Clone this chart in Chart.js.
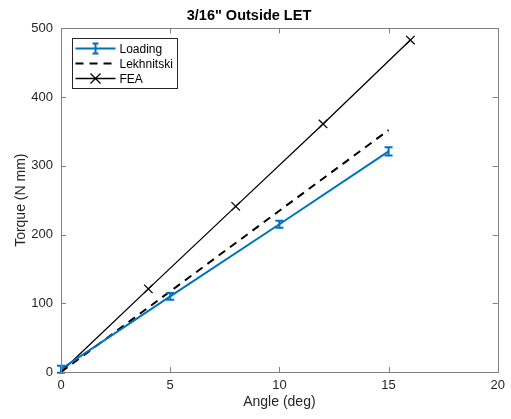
<!DOCTYPE html>
<html lang="en">
<head>
<meta charset="UTF-8">
<title>3/16" Outside LET</title>
<script src="https://cdn.jsdelivr.net/npm/chart.js"></script>
<style>
    body { margin: 0; background: #fff; }
    #wrap { width: 511px; height: 419px; }
</style>
</head>
<body>
<div id="wrap"><canvas id="mycanvas" width="511" height="419"></canvas></div>
<script type="text/javascript">
    // data
    const loadAngle = [0, 5, 10, 15];
    const loadTorque = [4, 110, 215, 321];
    const loadErr = [5, 5, 5, 6];

    const lekAngle = [0, 15];
    const lekTorque = [0, 352];

    const feaAngle = [0, 4, 8, 12, 16];
    const feaTorque = [0, 121, 241, 361, 483];

    const xTicks = [0, 5, 10, 15, 20];
    const yTicks = [0, 100, 200, 300, 400, 500];

    const blue = '#0072BD';
    const axisGrey = '#808080';
    const textGrey = '#262626';

    function pts(xs, ys) {
        return xs.map((x, i) => ({ x: x, y: ys[i] }));
    }

    // error bars for the Loading series
    const errorBars = {
        id: 'errorBars',
        afterDatasetsDraw(chart) {
            const ctx = chart.ctx;
            const xs = chart.scales.x, ys = chart.scales.y;
            ctx.save();
            ctx.strokeStyle = blue;
            ctx.lineWidth = 2;
            loadAngle.forEach((a, i) => {
                const px = xs.getPixelForValue(a);
                const top = ys.getPixelForValue(loadTorque[i] + loadErr[i]);
                const bot = ys.getPixelForValue(loadTorque[i] - loadErr[i]);
                ctx.beginPath();
                ctx.moveTo(px, top); ctx.lineTo(px, bot);
                ctx.moveTo(px - 4, top); ctx.lineTo(px + 4, top);
                ctx.moveTo(px - 4, bot); ctx.lineTo(px + 4, bot);
                ctx.stroke();
            });
            ctx.restore();
        }
    };

    // matlab style box with inward ticks, plus the legend
    const boxFrame = {
        id: 'boxFrame',
        afterDraw(chart) {
            const ctx = chart.ctx;
            const a = chart.chartArea;
            const xs = chart.scales.x, ys = chart.scales.y;
            ctx.save();
            ctx.strokeStyle = axisGrey;
            ctx.lineWidth = 1;
            ctx.strokeRect(Math.round(a.left) + 0.5, Math.round(a.top) + 0.5,
                Math.round(a.right - a.left), Math.round(a.bottom - a.top));
            ctx.beginPath();
            xTicks.forEach(t => {
                const px = Math.round(xs.getPixelForValue(t)) + 0.5;
                ctx.moveTo(px, a.bottom); ctx.lineTo(px, a.bottom - 5);
                ctx.moveTo(px, a.top); ctx.lineTo(px, a.top + 5);
            });
            yTicks.forEach(t => {
                const py = Math.round(ys.getPixelForValue(t)) + 0.5;
                ctx.moveTo(a.left, py); ctx.lineTo(a.left + 5, py);
                ctx.moveTo(a.right, py); ctx.lineTo(a.right - 5, py);
            });
            ctx.stroke();

            // legend
            const lx = Math.round(a.left) + 11.5, ly = Math.round(a.top) + 10.5;
            const w = 105, h = 50;
            ctx.fillStyle = '#fff';
            ctx.fillRect(lx, ly, w, h);
            ctx.strokeStyle = '#262626';
            ctx.strokeRect(lx, ly, w, h);
            ctx.font = '12px "Liberation Sans", Arial, sans-serif';
            ctx.textBaseline = 'middle';
            ctx.textAlign = 'left';
            chart.data.datasets.forEach((ds, i) => {
                const ry = ly + 10 + i * 15;
                const x0 = lx + 3, x1 = lx + 43, xm = (x0 + x1) / 2;
                ctx.save();
                ctx.strokeStyle = ds.borderColor;
                ctx.lineWidth = ds.borderWidth;
                ctx.setLineDash(ds.borderDash || []);
                ctx.beginPath();
                ctx.moveTo(x0, ry); ctx.lineTo(x1, ry);
                ctx.stroke();
                ctx.setLineDash([]);
                if (i === 0) {
                    ctx.beginPath();
                    ctx.moveTo(xm, ry - 5); ctx.lineTo(xm, ry + 5);
                    ctx.moveTo(xm - 3, ry - 5); ctx.lineTo(xm + 3, ry - 5);
                    ctx.moveTo(xm - 3, ry + 5); ctx.lineTo(xm + 3, ry + 5);
                    ctx.stroke();
                }
                if (i === 2) {
                    ctx.beginPath();
                    ctx.moveTo(xm - 5, ry - 5); ctx.lineTo(xm + 5, ry + 5);
                    ctx.moveTo(xm - 5, ry + 5); ctx.lineTo(xm + 5, ry - 5);
                    ctx.stroke();
                }
                ctx.restore();
                ctx.fillStyle = '#000';
                ctx.fillText(ds.label, lx + 47, ry + 1);
            });
            ctx.restore();
        }
    };

    const whiteBg = {
        id: 'whiteBg',
        beforeDraw(chart) {
            const ctx = chart.ctx;
            ctx.save();
            ctx.fillStyle = '#fff';
            ctx.fillRect(0, 0, chart.width, chart.height);
            ctx.restore();
        }
    };

    const family = '"Liberation Sans", Arial, sans-serif';
    const tickFont = { family: family, size: 13 };
    const labelFont = { family: family, size: 14 };

    new Chart(document.getElementById('mycanvas').getContext('2d'), {
        type: 'scatter',
        data: {
            datasets: [{
                label: 'Loading',
                data: pts(loadAngle, loadTorque),
                showLine: true,
                borderColor: blue,
                backgroundColor: blue,
                borderWidth: 2,
                pointRadius: 0
            }, {
                label: 'Lekhnitski',
                data: pts(lekAngle, lekTorque),
                showLine: true,
                borderColor: '#000',
                backgroundColor: '#000',
                borderWidth: 2,
                borderDash: [8, 6],
                pointRadius: 0
            }, {
                label: 'FEA',
                data: pts(feaAngle, feaTorque),
                showLine: true,
                borderColor: '#000',
                backgroundColor: '#000',
                borderWidth: 1.3,
                pointStyle: 'crossRot',
                pointRadius: 6,
                pointBorderWidth: 1.3
            }]
        },
        options: {
            responsive: false,
            animation: false,
            layout: { padding: { left: 0, right: 13, top: 0, bottom: 0 } },
            plugins: {
                legend: { display: false },
                tooltip: { enabled: false },
                title: {
                    display: true,
                    text: '3/16" Outside LET',
                    color: '#000',
                    font: { family: family, size: 14.5, weight: 'bold' },
                    padding: { top: 7, bottom: 4 }
                }
            },
            scales: {
                x: {
                    type: 'linear',
                    min: 0, max: 20,
                    afterBuildTicks: s => { s.ticks = xTicks.map(v => ({ value: v })); },
                    afterFit: s => { s.height = 47; },
                    grid: { display: false, drawTicks: false },
                    border: { display: false },
                    ticks: { color: textGrey, font: tickFont, padding: 6, maxRotation: 0 },
                    title: { display: true, text: 'Angle (deg)', color: textGrey, font: labelFont, padding: { top: 2, bottom: 8 } }
                },
                y: {
                    type: 'linear',
                    min: 0, max: 500,
                    afterBuildTicks: s => { s.ticks = yTicks.map(v => ({ value: v })); },
                    afterFit: s => { s.width = 61; },
                    grid: { display: false, drawTicks: false },
                    border: { display: false },
                    ticks: { color: textGrey, font: tickFont, padding: 8 },
                    title: { display: true, text: 'Torque (N mm)', color: textGrey, font: labelFont, padding: { top: 13, bottom: 4 } }
                }
            }
        },
        plugins: [whiteBg, errorBars, boxFrame]
    });
</script>
</body>
</html>
